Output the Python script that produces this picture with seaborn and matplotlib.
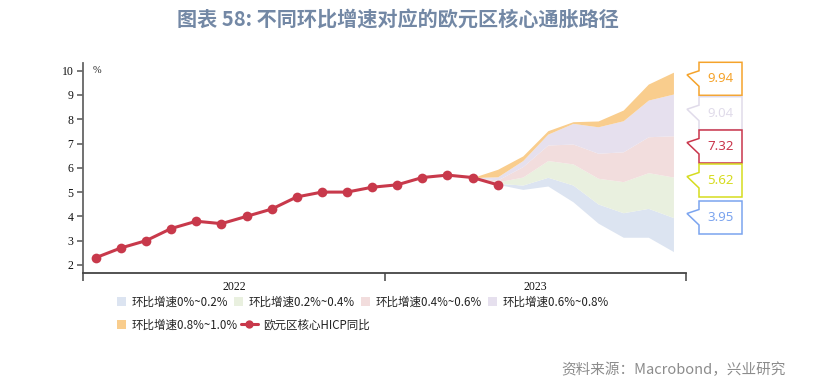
import matplotlib
matplotlib.use("Agg")
import matplotlib.pyplot as plt
from matplotlib.patches import Patch, Polygon, Rectangle
from matplotlib.lines import Line2D
from matplotlib.legend_handler import HandlerPatch
import pandas as pd
import seaborn as sns

W, H = 817, 391

# core HICP yoy, monthly from Jan 2022 (index 0) to May 2023 (index 16)
hicp = [2.3, 2.7, 3.0, 3.5, 3.8, 3.7, 4.0, 4.3, 4.8, 5.0, 5.0, 5.2,
        5.3, 5.6, 5.7, 5.6, 5.3]

# scenario paths, Apr 2023 (index 15) to Dec 2023 (index 23)
path_months = [15, 16, 17, 18, 19, 20, 21, 22, 23]
path_00 = [5.6, 5.32, 5.11, 5.25, 4.60, 3.72, 3.14, 3.14, 2.55]
path_02 = [5.6, 5.36, 5.29, 5.61, 5.29, 4.51, 4.15, 4.33, 3.95]
path_04 = [5.6, 5.42, 5.62, 6.30, 6.16, 5.57, 5.43, 5.80, 5.62]
path_06 = [5.6, 5.50, 6.05, 6.94, 6.98, 6.60, 6.66, 7.28, 7.32]
path_08 = [5.6, 5.63, 6.30, 7.39, 7.83, 7.69, 7.94, 8.79, 9.04]
path_10 = [5.6, 5.94, 6.49, 7.53, 7.90, 7.93, 8.38, 9.45, 9.94]

band_labels = ["环比增速0%~0.2%", "环比增速0.2%~0.4%", "环比增速0.4%~0.6%",
               "环比增速0.6%~0.8%", "环比增速0.8%~1.0%"]
line_label = "欧元区核心HICP同比"
year_labels = ["2022", "2023"]

BAND_COLORS = ["#DCE4F1", "#E9F0DF", "#F2DDDD", "#E6E0EE", "#F9CD8D"]
RED = "#C8394B"
# end-value callouts, top to bottom
CALLOUT_COLORS = ["#F5A32B", "#E0DBEA", "#C9354B", "#D6DC1E", "#7BA4EF"]

sns.set_theme(style="ticks")
plt.rcParams["font.family"] = ["Noto Sans CJK SC", "DejaVu Sans"]


def fx(x):
    return x / W


def fy(y):
    return 1 - y / H


fig = plt.figure(figsize=(W / 100, H / 100), dpi=100)
ax = fig.add_axes([fx(83.3), fy(272.7), (686 - 83.3) / W, (272.7 - 62.7) / H])

paths = [path_00, path_02, path_04, path_06, path_08, path_10]
for lo, hi, col in zip(paths[:-1], paths[1:], BAND_COLORS):
    ax.fill_between(path_months, lo, hi, color=col, linewidth=0, zorder=1)

df = pd.DataFrame({"month": range(len(hicp)), "value": hicp})
sns.lineplot(data=df, x="month", y="value", ax=ax, color=RED, linewidth=2.2,
             marker="o", markersize=7, markeredgewidth=0, zorder=5)

ax.set_xlim(-0.5, 23.5)
ax.set_ylim(1.68, 10.33)
ax.set_yticks(range(2, 11))
ax.set_xticks([-0.5, 11.5, 23.5])
ax.set_xticklabels([])
ax.set_xticks([5.5, 17.5], minor=True)
ax.set_xticklabels(year_labels, minor=True)
ax.set_xlabel("")
ax.set_ylabel("")
for side in ["top", "right"]:
    ax.spines[side].set_visible(False)
ax.spines["left"].set_color("#666666")
ax.spines["bottom"].set_color("#444444")
ax.spines["left"].set_linewidth(1.3)
ax.spines["bottom"].set_linewidth(1.3)
ax.tick_params(axis="y", length=4, width=1.1, color="#555555", pad=3,
               labelsize=8.5, labelfontfamily="Liberation Serif", labelcolor="#111111")
ax.tick_params(axis="x", which="major", length=6, width=1.1, color="#444444")
ax.tick_params(axis="x", which="minor", length=0, pad=6, labelsize=8.5,
               labelfontfamily="Liberation Serif", labelcolor="#111111")
ax.text(0.016, 0.965, "%", transform=ax.transAxes, ha="left", va="center",
        fontsize=7.5, family="Liberation Serif", color="#222222")

# callout boxes for the December 2023 values
end_values = [path_10[-1], path_08[-1], path_06[-1], path_04[-1], path_02[-1]]
box_tops = [62.3, 96.7, 130.0, 164.0, 201.0]
bx0, bx1, tip, bh = 699, 742, 687, 33
for top, val, col in zip(box_tops, end_values, CALLOUT_COLORS):
    pts = [(bx0, top), (bx1, top), (bx1, top + bh), (bx0, top + bh),
           (bx0, top + 24), (tip, top + 12.5), (bx0, top + 8.5)]
    fig.add_artist(Polygon([(fx(x), fy(y)) for x, y in pts], closed=True,
                           facecolor="white", edgecolor=col, linewidth=1.1,
                           transform=fig.transFigure))
    fig.text(fx((bx0 + bx1) / 2), fy(top + bh / 2), f"{val:.2f}", color=col,
             ha="center", va="center", fontsize=9.5, family=["Noto Sans", "DejaVu Sans"])


class SquareRight(HandlerPatch):
    def create_artists(self, legend, orig_handle, xdescent, ydescent, width,
                       height, fontsize, trans):
        s = 6.5
        r = Rectangle((width - xdescent - s, -ydescent + (height - s) / 2), s, s,
                      facecolor=orig_handle.get_facecolor(), edgecolor="none",
                      transform=trans)
        return [r]


fs = 8.3
patches = [Patch(facecolor=c, edgecolor="none") for c in BAND_COLORS]
leg1 = fig.legend(patches[:4], band_labels[:4], loc="center left",
                  bbox_to_anchor=(fx(116.7), fy(302)), ncol=4, frameon=False,
                  fontsize=fs, handlelength=0.8, handleheight=0.8,
                  handletextpad=0.45, columnspacing=0.55, borderpad=0,
                  borderaxespad=0, handler_map={Patch: SquareRight()})
red_line = Line2D([], [], color=RED, linewidth=2.2, marker="o", markersize=6,
                  markeredgewidth=0)
hl = 1.5
shift = (hl - 0.8) * fs * 100 / 72
leg2 = fig.legend([patches[4], red_line], [band_labels[4], line_label],
                  loc="center left", bbox_to_anchor=(fx(116.7 - shift), fy(325)),
                  ncol=2, frameon=False, fontsize=fs, handlelength=hl,
                  handleheight=0.8, handletextpad=0.45, columnspacing=0.3,
                  borderpad=0, borderaxespad=0, handler_map={Patch: SquareRight()})
for leg in (leg1, leg2):
    for t in leg.get_texts():
        t.set_color("#222222")

fig.text(fx(398), fy(20), "图表 58: 不同环比增速对应的欧元区核心通胀路径",
         ha="center", va="center", fontsize=14.5, fontweight="bold", color="#7388A5")
fig.text(fx(786), fy(370), "资料来源：Macrobond，兴业研究", ha="right",
         va="center", fontsize=10.5, color="#8C8C8C")

fig.savefig("out.png", dpi=100)
